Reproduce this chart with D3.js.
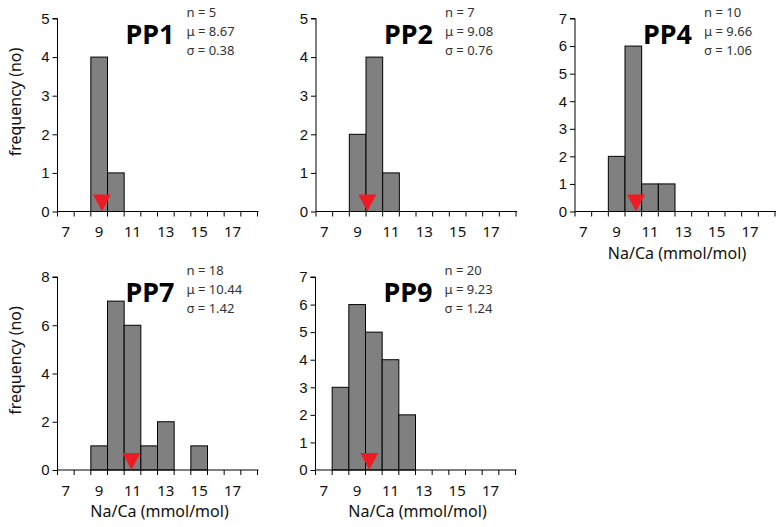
<!DOCTYPE html>
<html>
<head>
<meta charset="utf-8">
<script src="https://cdn.jsdelivr.net/npm/d3@7"></script>
<style>
  body { margin: 0; background: #fff; }
  svg { display: block; font-family: "Noto Sans", "Open Sans", sans-serif; }
</style>
</head>
<body>
<svg id="chart" width="776" height="527"></svg>
<script>
// histogram bins (bin label = Na/Ca mmol/mol), shared by every panel
const bins = [7, 8, 9, 10, 11, 12, 13, 14, 15, 16, 17, 18];
const tickLabels = [7, 9, 11, 13, 15, 17];

// per-sample counts, one per bin
const pp1Counts = [0, 0, 4, 1, 0, 0, 0, 0, 0, 0, 0, 0];
const pp2Counts = [0, 0, 2, 4, 1, 0, 0, 0, 0, 0, 0, 0];
const pp4Counts = [0, 0, 2, 6, 1, 1, 0, 0, 0, 0, 0, 0];
const pp7Counts = [0, 0, 1, 7, 6, 1, 2, 0, 1, 0, 0, 0];
const pp9Counts = [0, 3, 6, 5, 4, 2, 0, 0, 0, 0, 0, 0];

const samples = ['PP1', 'PP2', 'PP4', 'PP7', 'PP9'];
const sampleN = [5, 7, 10, 18, 20];
const sampleMean = [8.67, 9.08, 9.66, 10.44, 9.23];
const sampleSd = [0.38, 0.76, 1.06, 1.42, 1.24];
const yMax = [5, 5, 7, 8, 7];
const yStep = [1, 1, 1, 2, 1];
const counts = [pp1Counts, pp2Counts, pp4Counts, pp7Counts, pp9Counts];

// panel placement (layout only)
const panels = [
  { x: 57.5, y: 18.5, yLabel: true, xLabel: false },
  { x: 316, y: 18.5, yLabel: false, xLabel: false },
  { x: 575, y: 18.5, yLabel: false, xLabel: true },
  { x: 57.5, y: 277, yLabel: true, xLabel: true },
  { x: 315.5, y: 277, yLabel: false, xLabel: true },
];
const W = 200, H = 193;

const svg = d3.select('#chart');

samples.forEach((name, i) => {
  const p = panels[i];
  const g = svg.append('g').attr('transform', `translate(${p.x},${p.y})`);

  const x = d3.scaleBand().domain(bins).range([0, W]).padding(0);
  // continuous value scale for the mean marker (as drawn in the source figure)
  const xv = d3.scaleLinear().domain([6, 18]).range([0, W]);
  const y = d3.scaleLinear().domain([0, yMax[i]]).range([H, 0]);

  // bars
  g.selectAll('rect.bar').data(bins.map((b, k) => ({ b, c: counts[i][k] })).filter(d => d.c > 0))
    .enter().append('rect')
    .attr('class', 'bar')
    .attr('x', d => x(d.b))
    .attr('y', d => y(d.c))
    .attr('width', x.bandwidth())
    .attr('height', d => H - y(d.c))
    .attr('fill', '#808080')
    .attr('stroke', '#000')
    .attr('stroke-width', 1);

  // y axis
  const yAxis = d3.axisLeft(y)
    .tickValues(d3.range(0, yMax[i] + 0.01, yStep[i]))
    .tickFormat(d3.format('d'))
    .tickSize(5).tickPadding(3);
  const ya = g.append('g').call(yAxis);
  ya.select('.domain').attr('d', `M-5,0H0V${H}`).attr('stroke', '#000');
  ya.selectAll('text').attr('font-size', 15).attr('fill', '#111');

  // x axis: ticks at every bin edge, labels at alternate bin centres
  const edges = d3.range(0, bins.length + 1).map(k => k * x.bandwidth());
  const xa = g.append('g').attr('transform', `translate(0,${H})`);
  xa.append('line').attr('x1', 0).attr('x2', W + 1).attr('stroke', '#000');
  xa.selectAll('line.tk').data(edges).enter().append('line')
    .attr('class', 'tk')
    .attr('x1', d => d).attr('x2', d => d)
    .attr('y1', 0).attr('y2', 5)
    .attr('stroke', '#000');
  xa.selectAll('text').data(tickLabels).enter().append('text')
    .attr('x', d => x(d) + x.bandwidth() / 2)
    .attr('y', 25.5)
    .attr('text-anchor', 'middle')
    .attr('font-size', 15)
    .attr('fill', '#111')
    .text(d => d);

  // mean marker
  const mx = xv(sampleMean[i]);
  g.append('path')
    .attr('d', `M${mx - 9},${H - 17}L${mx + 9},${H - 17}L${mx},${H}Z`)
    .attr('fill', '#ed1c24');

  // sample name
  g.append('text')
    .attr('x', 117).attr('y', 25)
    .attr('text-anchor', 'end')
    .attr('font-size', 27).attr('font-weight', 'bold')
    .attr('fill', '#000')
    .text(name);

  // stats
  const st = g.append('text').attr('font-size', 13).attr('fill', '#333');
  [`n = ${sampleN[i]}`, `μ = ${sampleMean[i].toFixed(2)}`, `σ = ${sampleSd[i].toFixed(2)}`]
    .forEach((t, k) => st.append('tspan').attr('x', 129).attr('y', -2 + k * 19).text(t));

  if (p.yLabel) {
    g.append('text')
      .attr('transform', `translate(-37,${H / 2 - 13}) rotate(-90)`)
      .attr('text-anchor', 'middle')
      .attr('font-size', 16)
      .attr('fill', '#111')
      .text('frequency (no)');
  }
  if (p.xLabel) {
    g.append('text')
      .attr('x', W / 2 + 2).attr('y', H + 47)
      .attr('text-anchor', 'middle')
      .attr('font-size', 16)
      .attr('fill', '#111')
      .text('Na/Ca (mmol/mol)');
  }
});
</script>
</body>
</html>
